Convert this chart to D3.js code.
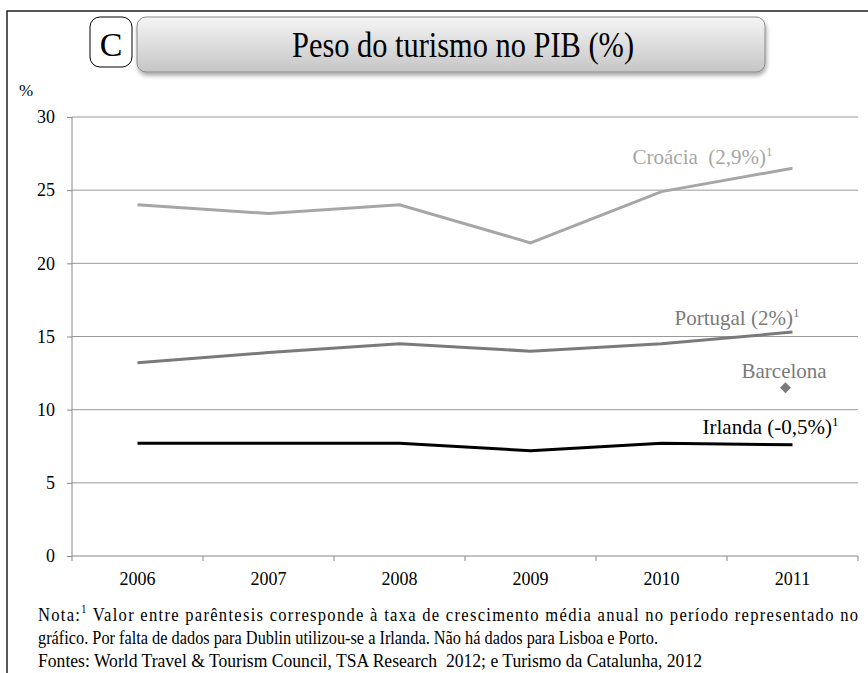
<!DOCTYPE html>
<html>
<head>
<meta charset="utf-8">
<script src="https://cdn.jsdelivr.net/npm/d3@7"></script>
<style>
  body { margin: 0; background: #fff; }
  svg text { white-space: pre; }
</style>
</head>
<body>
<svg id="main"></svg>
<script>
var years = ["2006", "2007", "2008", "2009", "2010", "2011"];
var croacia = [24.0, 23.4, 24.0, 21.4, 24.9, 26.5];
var portugal = [13.2, 13.9, 14.5, 14.0, 14.5, 15.3];
var irlanda = [7.7, 7.7, 7.7, 7.2, 7.7, 7.6];
var barcelonaYear = "2011";
var barcelonaValue = 11.5;
var yTicks = [0, 5, 10, 15, 20, 25, 30];
var notes = [
  "Nota:|1| Valor entre parêntesis corresponde à taxa de crescimento média anual no período representado no",
  "gráfico. Por falta de dados para Dublin utilizou-se a Irlanda. Não há dados para Lisboa e Porto.",
  "Fontes: World Travel & Tourism Council, TSA Research  2012; e Turismo da Catalunha, 2012"
];
var noteWidths = [820, 620, 664];

var w = 868;
var h = 673;
var plotLeft = 72, plotRight = 858, plotTop = 117, plotBottom = 556;
var serif = "'Liberation Serif', 'Times New Roman', serif";
var squeeze = 0.85;

var svg = d3.select("#main")
  .attr("width", w)
  .attr("height", h)
  .attr("font-family", serif);

var defs = svg.append("defs");
var grad = defs.append("linearGradient")
  .attr("id", "titleGrad")
  .attr("x1", 0).attr("y1", 0).attr("x2", 0).attr("y2", 1);
grad.append("stop").attr("offset", "0%").attr("stop-color", "#f5f5f5");
grad.append("stop").attr("offset", "100%").attr("stop-color", "#c6c6c6");
var shadow = defs.append("filter").attr("id", "shadow")
  .attr("x", "-5%").attr("y", "-20%").attr("width", "110%").attr("height", "160%");
shadow.append("feDropShadow")
  .attr("dx", 1).attr("dy", 3).attr("stdDeviation", 2)
  .attr("flood-color", "#000").attr("flood-opacity", 0.35);

// outer frame
svg.append("rect")
  .attr("x", 7).attr("y", 11)
  .attr("width", w).attr("height", h)
  .attr("fill", "none")
  .attr("stroke", "#222")
  .attr("stroke-width", 1.5);

// title boxes
svg.append("rect")
  .attr("x", 90).attr("y", 17)
  .attr("width", 42).attr("height", 50)
  .attr("rx", 10)
  .attr("fill", "#fff")
  .attr("stroke", "#000");
svg.append("text")
  .attr("x", 111).attr("y", 56)
  .attr("text-anchor", "middle")
  .attr("font-size", 34)
  .text("C");

svg.append("rect")
  .attr("x", 137).attr("y", 17)
  .attr("width", 628).attr("height", 55)
  .attr("rx", 9)
  .attr("fill", "url(#titleGrad)")
  .attr("stroke", "#8a8a8a")
  .attr("filter", "url(#shadow)");
svg.append("text")
  .attr("x", 292).attr("y", 57)
  .attr("font-size", 35)
  .attr("textLength", 342)
  .attr("lengthAdjust", "spacingAndGlyphs")
  .text("Peso do turismo no PIB (%)");

svg.append("text")
  .attr("x", 19).attr("y", 96)
  .attr("font-size", 17)
  .text("%");

var x = d3.scaleBand()
  .domain(years)
  .range([plotLeft, plotRight]);

var y = d3.scaleLinear()
  .domain([0, 30])
  .range([plotBottom, plotTop]);

function cx(d) { return x(d) + x.bandwidth() / 2; }

// gridlines
svg.append("g")
  .selectAll("line")
  .data(yTicks.filter(function(d) { return d > 0; }))
  .enter()
  .append("line")
  .attr("x1", plotLeft).attr("x2", plotRight)
  .attr("y1", function(d) { return y(d); })
  .attr("y2", function(d) { return y(d); })
  .attr("stroke", "#999")
  .attr("stroke-width", 1);

var yAxis = d3.axisLeft(y)
  .tickValues(yTicks)
  .tickSize(5)
  .tickPadding(12);

var gy = svg.append("g")
  .attr("transform", "translate(" + plotLeft + ",0)")
  .call(yAxis);
gy.selectAll("line, path").attr("stroke", "#888");
gy.select(".domain").attr("d", "M0," + plotTop + "V" + plotBottom);
gy.selectAll("text")
  .attr("font-size", 18)
  .attr("font-family", serif)
  .attr("fill", "#000");

var xAxis = d3.axisBottom(x)
  .tickSize(0)
  .tickPadding(16);

var gx = svg.append("g")
  .attr("transform", "translate(0," + plotBottom + ")")
  .call(xAxis);
gx.select(".domain").attr("stroke", "#888").attr("d", "M" + plotLeft + ",0H" + plotRight);
gx.selectAll("text")
  .attr("font-size", 18)
  .attr("font-family", serif)
  .attr("fill", "#000");

// category boundary ticks
gx.selectAll(".bound")
  .data(years.concat(["end"]))
  .enter()
  .append("line")
  .attr("class", "bound")
  .attr("x1", function(d) { return d === "end" ? plotRight : x(d); })
  .attr("x2", function(d) { return d === "end" ? plotRight : x(d); })
  .attr("y1", 0).attr("y2", 5)
  .attr("stroke", "#888");

var line = d3.line()
  .x(function(d, i) { return cx(years[i]); })
  .y(function(d) { return y(d); });

var series = [
  { values: croacia, color: "#a6a6a6" },
  { values: portugal, color: "#7a7a7a" },
  { values: irlanda, color: "#000" }
];

svg.selectAll(".series")
  .data(series)
  .enter()
  .append("path")
  .attr("class", "series")
  .attr("d", function(d) { return line(d.values); })
  .attr("fill", "none")
  .attr("stroke", function(d) { return d.color; })
  .attr("stroke-width", 3);

// Barcelona point
svg.append("path")
  .attr("d", d3.symbol().type(d3.symbolDiamond2).size(75))
  .attr("transform", "translate(" + (cx(barcelonaYear) - 7) + "," + y(barcelonaValue) + ")")
  .attr("fill", "#7a7a7a");

// labels
var lastX = cx("2011");
function label(txt, sup, dx, yPos, color) {
  var t = svg.append("text")
    .attr("x", lastX + dx).attr("y", yPos)
    .attr("font-size", 21)
    .attr("fill", color);
  t.append("tspan").text(txt);
  if (sup) {
    t.append("tspan").attr("font-size", 13).attr("dy", -8).text(sup);
  }
}
label("Croácia  (2,9%)", "1", -160, y(26.5) - 4, "#a6a6a6");
label("Portugal (2%)", "1", -118, y(15.3) - 7, "#7a7a7a");
label("Barcelona", null, -51, y(barcelonaValue) - 10, "#7a7a7a");
label("Irlanda (-0,5%)", "1", -90, y(7.6) - 11, "#000");

// footnote: first line is justified (letter spacing), the others sit at natural width
notes.forEach(function(txt, i) {
  var parts = txt.split("|");
  var t = svg.append("text")
    .attr("transform", "translate(38," + (621 + i * 23) + ") scale(" + squeeze + ",1)")
    .attr("font-size", 19.5)
    .attr("textLength", noteWidths[i] / squeeze)
    .attr("lengthAdjust", i === 0 ? "spacing" : "spacingAndGlyphs");
  if (parts.length === 3) {
    t.append("tspan").text(parts[0]);
    t.append("tspan").attr("font-size", 12).attr("dy", -8).text(parts[1]);
    t.append("tspan").attr("dy", 8).text(parts[2]);
  } else {
    t.text(parts[0]);
  }
});
</script>
</body>
</html>
